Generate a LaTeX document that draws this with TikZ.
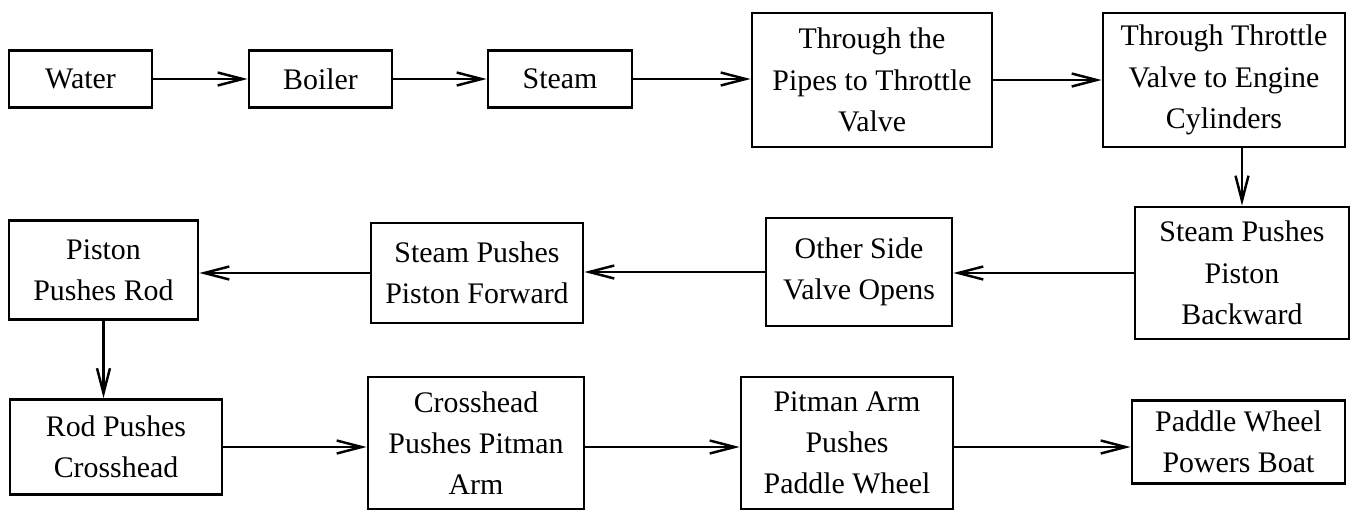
\documentclass[tikz,border=0pt]{standalone}
\usepackage{fontspec}
\setmainfont{Liberation Serif}
\usetikzlibrary{arrows.meta}
\tikzset{
	box/.style = {draw, line width = 1.6pt, align = center, inner sep = 0pt,
		font = \fontsize{17}{23.5}\selectfont},
	flow/.style = {line width = 1.5pt, -{Straight Barb[length = 0.5cm, width = 0.26cm, line width = 1.4pt]}}
}
\begin{document}
\begin{tikzpicture}[x = 0.02cm, y = -0.02cm]
\useasboundingbox (0,0) rectangle (1357,511);

\node[box, minimum width = 143*0.02cm, minimum height = 57*0.02cm] (water) at (80.5,79) {Water};
\node[box, minimum width = 143*0.02cm, minimum height = 57*0.02cm] (boiler) at (320.5,79) {Boiler};
\node[box, minimum width = 144*0.02cm, minimum height = 57*0.02cm] (steam) at (560,79) {Steam};
\node[box, minimum width = 240*0.02cm, minimum height = 134*0.02cm] (pipes) at (872,80) {Through the\\Pipes to Throttle\\Valve};
\node[box, minimum width = 242*0.02cm, minimum height = 134*0.02cm] (throttle) at (1224,80) {Through Throttle\\Valve to Engine\\Cylinders};

\node[box, minimum width = 214*0.02cm, minimum height = 132*0.02cm] (backward) at (1242,273) {Steam Pushes\\Piston\\Backward};
\node[box, minimum width = 186*0.02cm, minimum height = 108*0.02cm] (otherside) at (859,272) {Other Side\\Valve Opens};
\node[box, minimum width = 212*0.02cm, minimum height = 100*0.02cm] (forward) at (477,273) {Steam Pushes\\Piston Forward};
\node[box, minimum width = 189*0.02cm, minimum height = 99*0.02cm] (pistonrod) at (103.5,270) {Piston\\Pushes Rod};

\node[box, minimum width = 212*0.02cm, minimum height = 95*0.02cm] (rodpush) at (116,447) {Rod Pushes\\Crosshead};
\node[box, minimum width = 216*0.02cm, minimum height = 132*0.02cm] (crosshead) at (476,443) {Crosshead\\Pushes Pitman\\Arm};
\node[box, minimum width = 212*0.02cm, minimum height = 132*0.02cm] (pitman) at (847,443) {Pitman Arm\\Pushes\\Paddle Wheel};
\node[box, minimum width = 213*0.02cm, minimum height = 83*0.02cm] (paddle) at (1238.5,442) {Paddle Wheel\\Powers Boat};

\foreach \a/\b in {water/boiler, boiler/steam, steam/pipes, pipes/throttle}
	\draw[flow] (\a.east) -- (\a.east -| \b.west);

\draw[flow] (backward.north |- throttle.south) -- (backward.north);
\draw[flow] (backward.west) -- (backward.west -| otherside.east);
\draw[flow] (otherside.west) -- (otherside.west -| forward.east);
\draw[flow] (forward.west) -- (forward.west -| pistonrod.east);
\draw[flow] (pistonrod.south) -- (pistonrod.south |- rodpush.north);

\foreach \a/\b in {rodpush/crosshead, crosshead/pitman, pitman/paddle}
	\draw[flow] (\a.east |- rodpush.east) -- (\b.west |- rodpush.east);
\end{tikzpicture}
\end{document}
